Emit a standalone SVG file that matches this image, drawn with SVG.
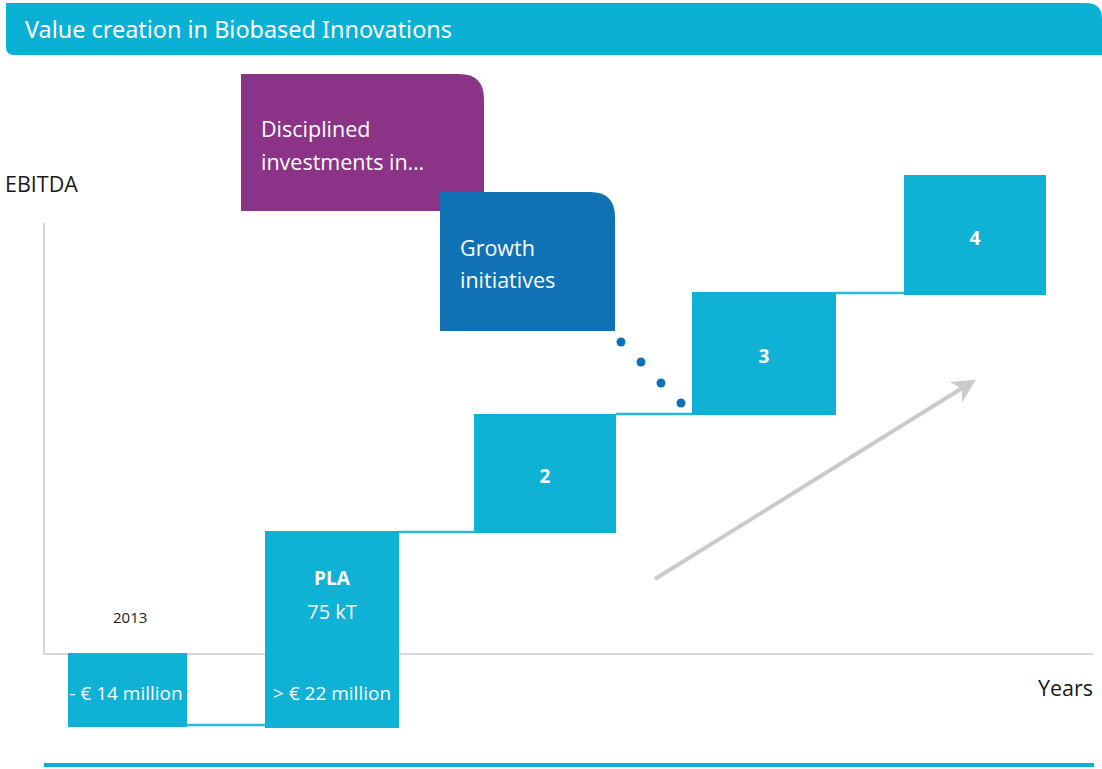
<svg xmlns="http://www.w3.org/2000/svg" width="1102" height="769" viewBox="0 0 1102 769">
  <style>
    .step { fill: #0FB1D4; }
    .lbl { font-family: "Open Sans", "Liberation Sans", sans-serif; fill: #ffffff; }
    .big { font-size: 21.5px; }
    .num { font-size: 19px; font-weight: bold; }
    .money { font-size: 19px; }
    .axis { stroke: #DAD6D6; stroke-width: 2; fill: none; }
    .link { stroke: #2BB8D8; stroke-width: 2.5; fill: none; }
    .dark { font-family: "Open Sans", "Liberation Sans", sans-serif; fill: #1a1a1a; }
    .dot { fill: #1070B5; }
  </style>
  <defs>
    <marker id="trend-head" viewBox="0 0 10 10" refX="8" refY="5" markerWidth="6" markerHeight="6" orient="auto" markerUnits="strokeWidth">
      <path d="M0,0 L10,5 L0,10 L3,5 Z" fill="#CEC9C7"/>
    </marker>
  </defs>

  <rect width="1102" height="769" fill="#ffffff"/>

  <!-- title banner -->
  <g id="title">
    <path d="M6,3 H1086 Q1102,3 1102,19 V55 H14 Q6,55 6,47 Z" fill="#0AB1D4"/>
    <text x="25" y="38" font-family="Noto Sans, Open Sans, sans-serif" font-size="23.5" fill="#ffffff" textLength="427" lengthAdjust="spacingAndGlyphs">Value creation in Biobased Innovations</text>
  </g>

  <!-- axes -->
  <g id="axes">
    <path class="axis" d="M44,223 V654 H1093"/>
    <text class="dark" x="5" y="192" font-size="21.5">EBITDA</text>
    <text class="dark" x="1038" y="696" font-size="21.5">Years</text>
    <text class="dark" x="113" y="623" font-size="15">2013</text>
  </g>

  <!-- connectors between steps -->
  <g id="connectors">
    <line class="link" x1="187" y1="725" x2="265" y2="725"/>
    <line class="link" x1="399" y1="532" x2="474" y2="532"/>
    <line class="link" x1="616" y1="414" x2="692" y2="414"/>
    <line class="link" x1="836" y1="293" x2="904" y2="293"/>
    <line x1="655" y1="579" x2="972" y2="382" stroke="#CEC9C7" stroke-width="4" marker-end="url(#trend-head)"/>
    <circle class="dot" cx="621" cy="342" r="4.5"/>
    <circle class="dot" cx="641" cy="362" r="4.5"/>
    <circle class="dot" cx="661" cy="383" r="4.5"/>
    <circle class="dot" cx="681" cy="403" r="4.5"/>
  </g>

  <g id="invest">
    <path d="M241,74 H459 Q484,74 484,99 V211 H241 Z" fill="#8B3386"/>
    <text class="lbl big" x="261" y="137">Disciplined</text>
    <text class="lbl big" x="261" y="170">investments in…</text>
  </g>

  <g id="growth">
    <path d="M440,192 H590 Q615,192 615,217 V331 H440 Z" fill="#1072B4"/>
    <text class="lbl big" x="460" y="256">Growth</text>
    <text class="lbl big" x="460" y="288">initiatives</text>
  </g>

  <g id="step-2013">
    <rect class="step" x="68" y="653" width="119" height="74"/>
    <text class="lbl money" x="126" y="700" text-anchor="middle">- € 14 million</text>
  </g>

  <g id="step-pla">
    <rect class="step" x="265" y="531" width="134" height="197"/>
    <text class="lbl" x="332" y="585" font-size="19" font-weight="bold" text-anchor="middle">PLA</text>
    <text class="lbl" x="332" y="619" font-size="20" text-anchor="middle">75 kT</text>
    <text class="lbl money" x="332" y="700" text-anchor="middle">&gt; € 22 million</text>
  </g>

  <g id="step-2">
    <rect class="step" x="474" y="414" width="142" height="119"/>
    <text class="lbl num" x="545" y="483" text-anchor="middle">2</text>
  </g>

  <g id="step-3">
    <rect class="step" x="692" y="292" width="144" height="123"/>
    <text class="lbl num" x="764" y="363" text-anchor="middle">3</text>
  </g>

  <g id="step-4">
    <rect class="step" x="904" y="175" width="142" height="120"/>
    <text class="lbl num" x="975" y="245" text-anchor="middle">4</text>
  </g>

  <!-- footer rule -->
  <line x1="44" y1="765" x2="1094" y2="765" stroke="#0AB1D4" stroke-width="4"/>
</svg>
